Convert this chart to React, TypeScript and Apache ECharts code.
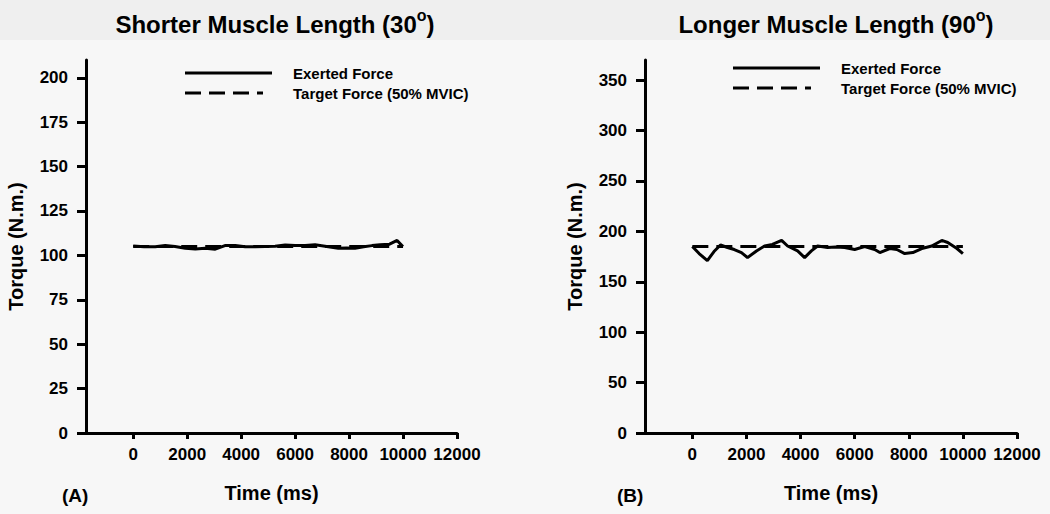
import React, { useEffect, useRef } from "react";
import * as echarts from "echarts";

// Panel A: shorter muscle length (30°)
const timeA = [0, 400, 815, 1185, 1550, 1930, 2300, 2670, 3040, 3400, 3780, 4150, 4520, 4890, 5260, 5630, 6000, 6370, 6740, 7170, 7600, 7900, 8220, 8540, 8850, 9150, 9500, 9780, 9960, 10000];
const torqueA = [105.3, 104.9, 104.8, 105.5, 105.0, 104.0, 103.6, 104.0, 103.5, 105.5, 105.6, 104.9, 104.8, 105.0, 105.2, 105.8, 105.6, 105.5, 106.0, 105.0, 104.0, 104.2, 104.0, 104.8, 105.5, 106.0, 106.3, 108.4, 105.5, 105.0];
const targetTimeA = [0, 10000];
const targetA = [105, 105];

// Panel B: longer muscle length (90°)
const timeB = [0, 250, 555, 800, 1040, 1300, 1550, 1815, 2040, 2370, 2670, 2960, 3300, 3520, 3890, 4150, 4400, 4630, 5000, 5300, 5630, 6000, 6370, 6740, 6930, 7300, 7560, 7850, 8150, 8480, 8850, 9220, 9440, 9780, 10000];
const torqueB = [185, 178, 171, 180, 186.5, 184, 182, 179, 174, 180.6, 185.5, 187, 191, 185.5, 180.6, 174, 180.6, 185.5, 184, 184.5, 184, 182, 185, 182, 179, 183, 182, 178, 179, 183, 185.5, 191, 189, 183, 178];
const targetTimeB = [0, 10000];
const targetB = [185, 185];

const xTicks = [0, 2000, 4000, 6000, 8000, 10000, 12000];
const yTicksA = [0, 25, 50, 75, 100, 125, 150, 175, 200];
const yTicksB = [0, 50, 100, 150, 200, 250, 300, 350];

const FONT = "'Liberation Sans', Arial, sans-serif";

const zip = (xs: number[], ys: number[]) => xs.map((x, i) => [x, ys[i]]);

export default function App() {
  const ref = useRef<HTMLDivElement>(null);
  useEffect(() => {
    if (!ref.current) return;
    const chart = echarts.init(ref.current, undefined, { renderer: "svg" });

    const axisLine = { show: true, onZero: false, lineStyle: { color: "#000", width: 3 } };
    const makeX = (gridIndex: number) => ({
      type: "value",
      gridIndex,
      min: -1750,
      max: 12000,
      axisLine,
      axisTick: { show: true, length: 6, lineStyle: { color: "#000", width: 3 }, customValues: xTicks },
      axisLabel: {
        customValues: xTicks,
        formatter: (v: number) => String(v),
        color: "#000",
        fontFamily: FONT,
        fontWeight: "bold",
        fontSize: 17,
        margin: 13,
      },
      splitLine: { show: false },
      name: "Time (ms)",
      nameLocation: "middle",
      nameGap: 50,
      nameTextStyle: { color: "#000", fontFamily: FONT, fontWeight: "bold", fontSize: 20 },
    });
    const makeY = (gridIndex: number, max: number, ticks: number[]) => ({
      type: "value",
      gridIndex,
      min: 0,
      max,
      axisLine,
      axisTick: { show: true, length: 9, lineStyle: { color: "#000", width: 3 }, customValues: ticks },
      axisLabel: { customValues: ticks, color: "#000", fontFamily: FONT, fontWeight: "bold", fontSize: 17, margin: 18 },
      splitLine: { show: false },
      name: "Torque (N.m.)",
      nameLocation: "middle",
      nameGap: 60,
      nameTextStyle: { color: "#000", fontFamily: FONT, fontWeight: "bold", fontSize: 20 },
    });

    const titleStyle = {
      color: "#000",
      fontFamily: FONT,
      fontWeight: "bold",
      fontSize: 24,
      lineHeight: 34,
      rich: {
        sup: { fontFamily: FONT, fontWeight: "bold", fontSize: 16, lineHeight: 16, verticalAlign: "top", color: "#000" },
      },
    };

    const legendText = { fill: "#000", font: `bold 15px ${FONT}`, verticalAlign: "middle" };
    const legend = (x: number, y: number) => [
      { type: "line", shape: { x1: x, y1: y, x2: x + 87, y2: y }, style: { stroke: "#000", lineWidth: 3 } },
      { type: "text", x: x + 108, y, style: { ...legendText, text: "Exerted Force" } },
      { type: "line", shape: { x1: x, y1: y + 20, x2: x + 78, y2: y + 20 }, style: { stroke: "#000", lineWidth: 3, lineDash: [16, 8] } },
      { type: "text", x: x + 108, y: y + 20, style: { ...legendText, text: "Target Force (50% MVIC)" } },
    ];

    chart.setOption({
      animation: false,
      backgroundColor: "#f7f7f7",
      title: [
        { text: "Shorter Muscle Length (30{sup|o})", left: 270, top: 2, textAlign: "center", textStyle: titleStyle },
        { text: "Longer Muscle Length (90{sup|o})", left: 831, top: 2, textAlign: "center", textStyle: titleStyle },
      ],
      grid: [
        { left: 86, top: 60, width: 371, height: 373 },
        { left: 645, top: 60, width: 372, height: 373 },
      ],
      xAxis: [makeX(0), makeX(1)],
      yAxis: [makeY(0, 210, yTicksA), makeY(1, 370, yTicksB)],
      series: [
        { type: "line", name: "Exerted Force", xAxisIndex: 0, yAxisIndex: 0, data: zip(timeA, torqueA), showSymbol: false, lineStyle: { color: "#000", width: 3 } },
        { type: "line", name: "Target Force (50% MVIC)", xAxisIndex: 0, yAxisIndex: 0, data: zip(targetTimeA, targetA), showSymbol: false, lineStyle: { color: "#000", width: 3, type: [16, 8] } },
        { type: "line", name: "Exerted Force", xAxisIndex: 1, yAxisIndex: 1, data: zip(timeB, torqueB), showSymbol: false, lineStyle: { color: "#000", width: 3 } },
        { type: "line", name: "Target Force (50% MVIC)", xAxisIndex: 1, yAxisIndex: 1, data: zip(targetTimeB, targetB), showSymbol: false, lineStyle: { color: "#000", width: 3, type: [16, 8] } },
      ],
      graphic: [
        { type: "rect", z: -10, shape: { x: 0, y: 0, width: 1050, height: 40 }, style: { fill: "#efefef" } },
        ...legend(185, 73),
        ...legend(733, 68),
        { type: "text", x: 62, y: 495, style: { text: "(A)", fill: "#000", font: `bold 19px ${FONT}`, verticalAlign: "middle" } },
        { type: "text", x: 617, y: 495, style: { text: "(B)", fill: "#000", font: `bold 19px ${FONT}`, verticalAlign: "middle" } },
      ],
    });
    return () => chart.dispose();
  }, []);
  return <div ref={ref} style={{ position: "fixed", left: 0, top: 0, width: 1050, height: 514 }} />;
}
